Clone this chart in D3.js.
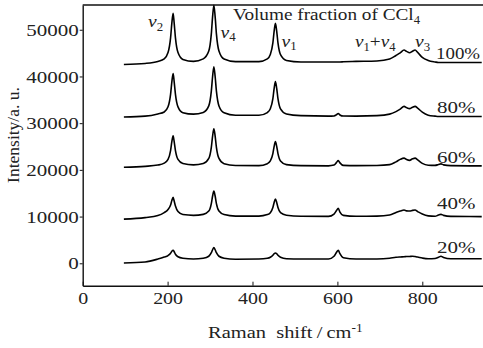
<!DOCTYPE html>
<html>
<head>
<meta charset="utf-8">
<script src="https://cdn.jsdelivr.net/npm/d3@7"></script>
<style>
  body { margin: 0; background: #fff; }
  text { font-family: "Liberation Serif", "Times New Roman", serif; fill: #222; }
</style>
</head>
<body>
<div id="chart"></div>
<script>
// Raman shift grid (cm-1), shared by every spectrum
let ramanShift = [97, 147, 177, 192, 201, 207, 210, 213, 215.5, 218.5, 224.5, 236, 261, 284, 297, 303, 306, 309, 312, 315,
  321, 333, 360, 415, 435, 442, 448, 451, 454, 457, 460, 466, 480, 514, 579, 592, 598, 602, 606, 614,
  644, 693, 723, 738, 748, 757, 763, 770, 777, 783, 789, 800, 814, 830, 838, 844, 850, 867, 940];

// Intensity (a. u.), one array per CCl4 volume fraction
let intensity100 = [42570, 42790, 43220, 43750, 45110, 48270, 51430, 53540, 51430, 48270, 45110, 43650, 43220, 43770, 45450, 49130, 52800, 55250, 52800, 49130,
  45450, 43730, 43170, 43170, 43750, 44680, 47190, 49710, 51390, 49710, 47190, 44680, 43430, 43110, 43110, 43110, 43110, 43110, 43110, 43150,
  43220, 43320, 43750, 44500, 45040, 45650, 45370, 45090, 45410, 45650, 45150, 44080, 43430, 43110, 43000, 43000, 43000, 43000, 43000];
let intensity80 = [31325, 31500, 31970, 32380, 33500, 36185, 38850, 40635, 38850, 36185, 33500, 32250, 31930, 32290, 33690, 36850, 39990, 42075, 39990, 36850,
  33690, 32230, 31690, 31690, 32270, 33070, 35260, 37450, 38915, 37450, 35260, 33070, 31970, 31605, 31500, 31540, 31820, 32080, 31755, 31520,
  31500, 31605, 31930, 32465, 33000, 33605, 33325, 33110, 33430, 33605, 33220, 32360, 31710, 31500, 31430, 31430, 31430, 31430, 31430];
let intensity60 = [20575, 20750, 21025, 21435, 22230, 24135, 26035, 27305, 26035, 24135, 22230, 21350, 21070, 21350, 22445, 24830, 27220, 28810, 27220, 24830,
  22445, 21330, 20940, 20900, 21330, 21910, 23480, 25025, 26080, 25025, 23480, 21910, 21115, 20900, 20855, 21025, 21610, 21995, 21500, 20960,
  20900, 20940, 21115, 21715, 22250, 22510, 22210, 22040, 22360, 22510, 22145, 21390, 21005, 20960, 21135, 21285, 21070, 20900, 20855];
let intensity40 = [9460, 9780, 10210, 10860, 11500, 12470, 13440, 14125, 13330, 12255, 11070, 10430, 10255, 10470, 11180, 12790, 14405, 15480, 14405, 12790,
  11180, 10430, 10105, 10105, 10430, 10835, 11930, 13030, 13760, 13030, 11930, 10835, 10275, 10060, 10040, 10535, 11290, 11760, 10965, 10255,
  10060, 10105, 10320, 10860, 11180, 11395, 11225, 11180, 11330, 11395, 11070, 10535, 10150, 10060, 10320, 10470, 10255, 10040, 9995];
let intensity20 = [65, 280, 905, 1335, 1655, 2150, 2580, 2795, 2475, 1935, 1400, 1075, 905, 1075, 1505, 2260, 2900, 3375, 2900, 2260,
  1505, 1075, 860, 905, 1075, 1290, 1720, 2045, 2215, 2045, 1720, 1290, 970, 905, 905, 1505, 2365, 2795, 2045, 1185,
  905, 905, 1075, 1290, 1355, 1400, 1440, 1460, 1505, 1440, 1335, 1120, 970, 1030, 1290, 1505, 1245, 970, 970];

let fractionLabels = ["100%", "80%", "60%", "40%", "20%"];
let xTicks = [0, 200, 400, 600, 800];
let yTicks = [0, 10000, 20000, 30000, 40000, 50000];

let spectra = [intensity100, intensity80, intensity60, intensity40, intensity20];

// Store width and height parameters
let svgWidth = 483;
let svgHeight = 348;

let margin = { top: 5, right: 0, bottom: 62.3, left: 82.7 };
let width = svgWidth - margin.left - margin.right;
let height = svgHeight - margin.top - margin.bottom;

let svg = d3.select("#chart")
  .append("svg")
  .attr("width", svgWidth)
  .attr("height", svgHeight);

let chartGroup = svg.append("g")
  .attr("transform", `translate(${margin.left}, ${margin.top})`);

// scales
let xScale = d3.scaleLinear().domain([0, 943]).range([0, width]);
let yScale = d3.scaleLinear().domain([-4800, 55300]).range([height, 0]);

// axes: y ticks point out, x ticks point in
let leftAxis = d3.axisLeft(yScale).tickValues(yTicks).tickSizeInner(3).tickSizeOuter(0).tickFormat(d3.format("d"));
let bottomAxis = d3.axisBottom(xScale).tickValues(xTicks).tickSizeInner(-4).tickSizeOuter(0).tickPadding(6);

let yAxisG = chartGroup.append("g").call(leftAxis);
let xAxisG = chartGroup.append("g")
  .attr("transform", `translate(0, ${height})`)
  .call(bottomAxis);

[yAxisG, xAxisG].forEach(g => {
  g.select(".domain").attr("stroke", "#111").attr("stroke-width", 1.4);
  g.selectAll(".tick line").attr("stroke", "#111").attr("stroke-width", 1);
  g.selectAll(".tick text")
    .attr("font-size", 17.5)
    .attr("fill", "#222");
});
yAxisG.selectAll(".tick text")
  .attr("x", -4 / 1.2)
  .attr("transform", "scale(1.2,1)");
xAxisG.selectAll(".tick text")
  .attr("transform", "scale(1.14,1)");

// top border
chartGroup.append("line")
  .attr("x1", 0).attr("x2", width)
  .attr("y1", 0).attr("y2", 0)
  .attr("stroke", "#111")
  .attr("stroke-width", 1.4);

// spectra
let line = d3.line()
  .x((d, i) => xScale(ramanShift[i]))
  .y(d => yScale(d))
  .curve(d3.curveMonotoneX);

chartGroup.selectAll(".spectrum")
  .data(spectra)
  .enter()
  .append("path")
  .attr("class", "spectrum")
  .attr("d", d => line(d))
  .attr("fill", "none")
  .attr("stroke", "#000")
  .attr("stroke-width", 1.6)
  .attr("stroke-linejoin", "round");

// label helper: parts are {t, sub, sup, it}
function drawLabel(x, y, parts, sx, size) {
  let g = svg.append("g").attr("transform", `translate(${x}, ${y}) scale(${sx}, 1)`);
  let t = g.append("text").attr("font-size", size || 17.5);
  let cur = 0;
  parts.forEach(p => {
    let shift = p.sub ? 3.5 : (p.sup ? -6.5 : 0);
    let ts = t.append("tspan")
      .attr("dy", shift - cur)
      .text(p.t);
    if (p.sub || p.sup) ts.attr("font-size", 11.5);
    if (p.it) ts.attr("font-style", "italic");
    cur = shift;
  });
  return t;
}

// legend title
drawLabel(233, 20, [{ t: "Volume fraction of CCl" }, { t: "4", sub: true }], 1.1);

// band labels
drawLabel(148, 27, [{ t: "v", it: true }, { t: "2", sub: true }], 1.12);
drawLabel(220.5, 37.5, [{ t: "v", it: true }, { t: "4", sub: true }], 1.12);
drawLabel(281.5, 46.5, [{ t: "v", it: true }, { t: "1", sub: true }], 1.12);
drawLabel(355, 47, [{ t: "v", it: true }, { t: "1", sub: true }, { t: "+" }, { t: "v", it: true }, { t: "4", sub: true }], 1.1);
drawLabel(415, 47, [{ t: "v", it: true }, { t: "3", sub: true }], 1.12);

// volume fraction labels (the widest one is kept inside the right edge)
let fractionY = [59, 113.3, 162.7, 209.3, 252.7];
fractionLabels.forEach((lbl, i) => {
  if (i === 0) drawLabel(436, fractionY[i], [{ t: lbl }], 1.08);
  else drawLabel(437, fractionY[i], [{ t: lbl }], 1.2);
});

// axis titles
drawLabel(208, 338, [{ t: "Raman\u2002shift\u2009/\u2009cm" }, { t: "-1", sup: true }], 1.17);

svg.append("text")
  .attr("transform", "translate(18.5, 135) rotate(-90)")
  .attr("text-anchor", "middle")
  .attr("font-size", 17.5)
  .text("Intensity/a. u.");
</script>
</body>
</html>
